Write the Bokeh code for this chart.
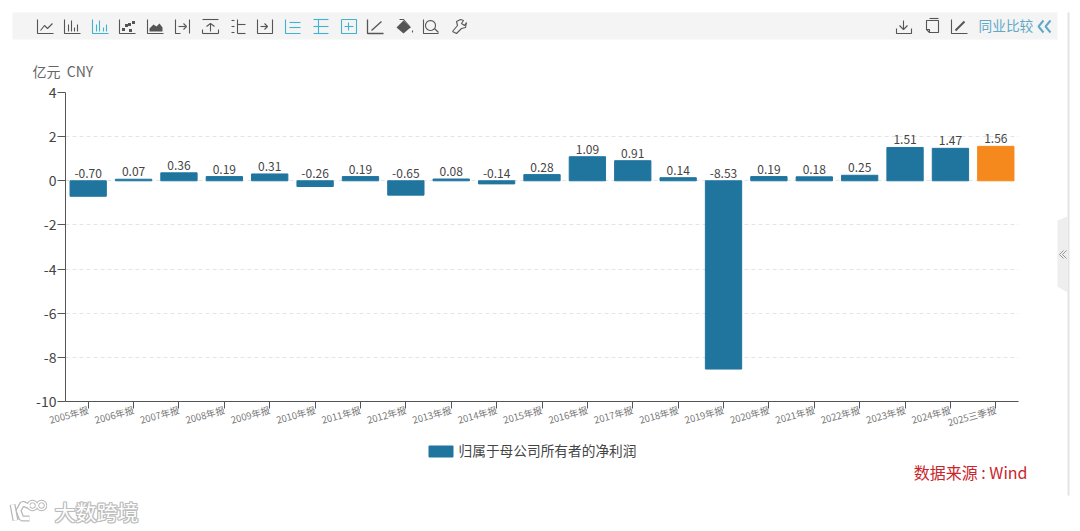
from bokeh.plotting import figure
from bokeh.models import (ColumnDataSource, FixedTicker, Range1d)
from bokeh.core.properties import value
from bokeh.embed import file_html
from bokeh.resources import INLINE
import math

categories = ["2005年报","2006年报","2007年报","2008年报","2009年报","2010年报","2011年报",
              "2012年报","2013年报","2014年报","2015年报","2016年报","2017年报","2018年报",
              "2019年报","2020年报","2021年报","2022年报","2023年报","2024年报","2025三季报"]
net_profit = [-0.70,0.07,0.36,0.19,0.31,-0.26,0.19,-0.65,0.08,-0.14,0.28,1.09,0.91,0.14,-8.53,0.19,0.18,0.25,1.51,1.47,1.56]
value_labels = ["%.2f" % v for v in net_profit]
y_ticks = [-10,-8,-6,-4,-2,0,2,4]
y_tick_labels = ["-10","-8","-6","-4","-2","0","2","4"]
series_name = "归属于母公司所有者的净利润"
unit_text = "亿元\u00a0\u00a0CNY"
source_text = "数据来源 : Wind"
peer_text = "同业比较"
brand_text = "大数跨境"

BLUE, ORANGE = "#20759f", "#f6891e"
FONT = "Noto Sans CJK SC"
L, R, T, B = 65, 1018, 92, 401
W, H = 1072, 530

colors = [BLUE]*(len(categories)-1)+[ORANGE]
idx = list(range(len(categories)))
src = ColumnDataSource(dict(i=idx, v=net_profit, c=colors, lab=value_labels,
                            top=[max(x,0) for x in net_profit]))

p = figure(width=W, height=H, x_range=Range1d(-0.5,len(categories)-0.5), y_range=Range1d(-10,4),
           output_backend="svg", toolbar_location=None,
           min_border_left=L, min_border_right=W-R, min_border_top=T, min_border_bottom=H-B,
           outline_line_color=None, background_fill_color="white", border_fill_color="white")
p.extra_x_ranges = {"px": Range1d(L, R)}
p.extra_y_ranges = {"py": Range1d(B, T)}

p.xgrid.visible = False
p.ygrid.grid_line_color = "#e4e4e4"
p.ygrid.grid_line_dash = "4 3"
p.ygrid.ticker = FixedTicker(ticks=y_ticks)

ya = p.yaxis[0]
ya.ticker = FixedTicker(ticks=y_ticks)
ya.major_label_overrides = {t: s for t, s in zip(y_ticks, y_tick_labels)}
ya.major_tick_in = 0; ya.major_tick_out = 8; ya.minor_tick_line_color = None
ya.axis_line_color = "#555555"; ya.major_tick_line_color = "#555555"
ya.major_label_text_font = FONT; ya.major_label_text_font_size = "14px"
ya.major_label_text_color = "#444444"; ya.major_label_standoff = 1
xa = p.xaxis[0]
xa.ticker = FixedTicker(ticks=idx)
xa.major_label_overrides = {i: c for i, c in zip(idx, categories)}
xa.major_tick_in = 0; xa.major_tick_out = 7; xa.minor_tick_line_color = None
xa.axis_line_color = "#555555"; xa.major_tick_line_color = "#555555"
xa.major_label_text_font = FONT; xa.major_label_text_font_size = "9.5px"
xa.major_label_text_color = "#777777"; xa.major_label_orientation = math.radians(15)
xa.major_label_standoff = 1

bars = p.vbar(x="i", top="v", bottom=0, width=0.8, color="c", source=src)
p.text(x="i", y="top", text="lab", source=src, text_align="center", text_baseline="bottom",
       text_font=value(FONT), text_font_size="12px", text_color="#444444", y_offset=-3)

# helpers: decoration drawn in page-pixel coordinates
kw = dict(x_range_name="px", y_range_name="py", level="overlay")
def box(x0,x1,y0,y1,color):
    p.quad(left=[x0],right=[x1],top=[y0],bottom=[y1],fill_color=color,line_color=None,**kw)
def txt(x,y,s,size,color,align="left",font=FONT):
    p.text(x=[x],y=[y],text=[s],text_font=value(font),text_font_size=size,text_color=color,
           text_align=align,text_baseline="middle",**kw)
def lines(paths,color,w=1.1):
    p.multi_line(xs=[[q[0] for q in s] for s in paths],ys=[[q[1] for q in s] for s in paths],
                 line_color=color,line_width=w,**kw)
def ring(cx,cy,r):
    return [(cx+r*math.cos(a*math.pi/12),cy+r*math.sin(a*math.pi/12)) for a in range(25)]

# legend
p.quad(left=[429],right=[452],top=[446],bottom=[456],fill_color=BLUE,line_color=BLUE,line_width=2,line_join="round",**kw)
txt(458,449.5,series_name,"13.7px","#444444")

box(12,1057,12,39,"#f4f4f4")
box(1067,1069,12,495,"#e4e4e4")
p.patch(x=[1067,1057,1057,1067],y=[216,220,286,292],fill_color="#eeeeee",line_color=None,**kw)
lines([[(1063,250),(1059,254),(1063,258)],[(1066,250),(1062,254),(1066,258)]],"#999999",1)

GR, CY = "#555555", "#3fb4cf"
def ax(c): return [(c-8,19),(c-8,33),(c+8,33)]
icons = [
 (45,GR,[[(-5,30),(-1,25),(2,28),(7,23)]]),
 (72,GR,[[(-4,31),(-4,24)],[(-1,31),(-1,20)],[(2,31),(2,27)],[(5,31),(5,24)]]),
 (100,CY,[[(-4,31),(-4,24)],[(-1,31),(-1,20)],[(3,31),(3,27)],[(6,31),(6,24)]]),
]
for c,col,extra in icons:
    lines([ax(c)]+[[(c+a,b) for a,b in s] for s in extra],col)
lines([ax(127)],GR)
for dx,dy in [(123,29),(126,25),(130,30),(133,22),(129,24)]:
    box(dx-1.5,dx+1.5,dy-1.5,dy+1.5,GR)
lines([ax(155)],GR)
p.patch(x=[149,153,156,159,162,162,149],y=[28,24,26,23,27,31,31],fill_color=GR,line_color=None,**kw)
# remaining toolbar icons
lines([[(175,19),(175,33),(180,33)],[(178,26),(185,26)],[(183,23),(186,26),(183,29)],[(189,19),(189,33)]],GR)
lines([[(202,19),(218,19)],[(202,33),(218,33)],[(202,33),(202,29)],[(218,33),(218,29)],[(210,31),(210,23)],[(206,26),(210,23),(214,26)]],GR)
lines([[(231,20),(234,20)],[(231,26),(234,26)],[(231,32),(234,32)],[(237,19),(237,33)],[(237,24),(245,24)],[(237,33),(245,33)]],GR)
lines([[(257,19),(257,33),(272,33),(272,19)],[(260,26),(267,26)],[(264,23),(267,26),(264,29)]],GR)
lines([[(285,19),(285,33),(300,33)],[(289,22),(300,22)],[(289,27),(300,27)]],CY)
lines([[(313,19),(328,19)],[(313,26),(328,26)],[(313,33),(328,33)],[(318,19),(318,33)]],CY)
lines([[(341,19),(356,19),(356,33),(341,33),(341,19)],[(344,26),(353,26)],[(348,22),(348,30)]],CY)
lines([[(367,19),(367,33),(383,33)],[(371,30),(381,21)]],GR,1.3)
p.patch(x=[403,410,403,396],y=[20,27,33,27],fill_color=GR,line_color=None,**kw)
lines([[(399,19),(403,19),(410,27)],[(412,30),(412,32)]],GR)
lines([[(423,19),(423,33),(438,33)],[(434,28),(438,32)],ring(430,25,5)],GR)
lines([[(452,31),(457,25),(456,21),(460,19),(463,20),(461,23),(464,25),(466,22),(465,27),(461,28),(456,33),(452,31)]],GR)
lines([[(896,28),(896,33),(911,33),(911,28)],[(903,20),(903,29)],[(899,25),(903,29),(907,25)]],GR)
lines([[(929,20),(938,20),(938,32),(929,32),(926,29),(926,20),(929,20)],[(929,18),(938,18)],[(926,29),(929,29),(929,32)]],GR)
lines([[(951,19),(951,33),(967,33)]],GR,1.1)
lines([[(955,30),(964,21)]],GR,2)
txt(978,24.5,peer_text,"13.7px","#5fa9c6")
lines([[(1043,20),(1038,26),(1043,32)],[(1050,20),(1045,26),(1050,32)]],"#5fa9c6",2)

txt(32,70,unit_text,"14px","#666666")
txt(1027,471.5,source_text,"16px","#c9252b","right")

# watermark
for dx,dy in [(-1,0),(1,0),(0,-1),(0,1),(1,1),(-1,-1),(1,-1),(-1,1)]:
    txt(54+dx,510+dy,brand_text,"21px","#bcbcbc")
txt(54,510,brand_text,"21px","#ffffff")
logo = [[(12,504),(15,520)],[(29,506),(22,503),(18,510),(21,518),(29,518)]]
rings = [ring(32,505,4),ring(41,505,4)]
lines(logo,"#b8b8b8",6)
lines(rings,"#b8b8b8",3.5)
lines(logo,"#ffffff",3.5)
lines(rings,"#ffffff",1.5)

open("out.html","w").write(file_html(p, INLINE))
